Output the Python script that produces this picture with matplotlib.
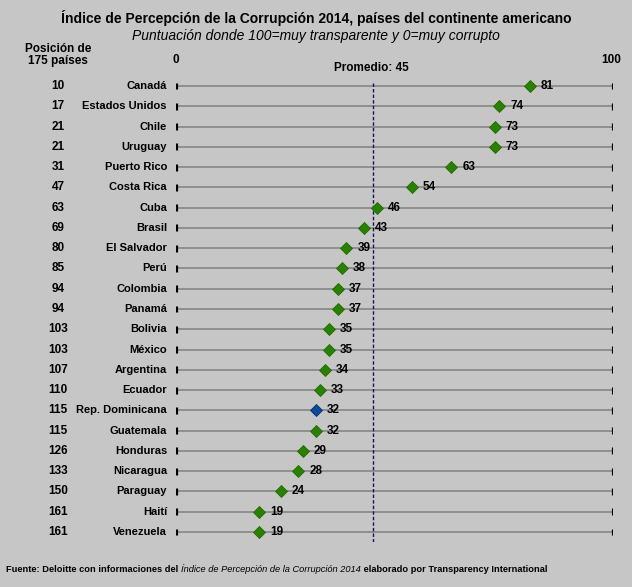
import matplotlib
matplotlib.use("Agg")
import matplotlib.pyplot as plt
from matplotlib.transforms import blended_transform_factory

ranks = [10, 17, 21, 21, 31, 47, 63, 69, 80, 85, 94, 94, 103, 103, 107, 110, 115, 115, 126, 133, 150, 161, 161]
countries = ["Canadá", "Estados Unidos", "Chile", "Uruguay", "Puerto Rico", "Costa Rica", "Cuba", "Brasil",
             "El Salvador", "Perú", "Colombia", "Panamá", "Bolivia", "México", "Argentina", "Ecuador",
             "Rep. Dominicana", "Guatemala", "Honduras", "Nicaragua", "Paraguay", "Haití", "Venezuela"]
scores = [81, 74, 73, 73, 63, 54, 46, 43, 39, 38, 37, 37, 35, 35, 34, 33, 32, 32, 29, 28, 24, 19, 19]
highlight = "Rep. Dominicana"
promedio = 45

plt.rcParams['font.family'] = ['Liberation Sans', 'DejaVu Sans']
BG = "#C6C6C6"
W, H = 632, 587
fig = plt.figure(figsize=(W / 100, H / 100), dpi=100, facecolor=BG)

x0, x1 = 176, 613
top, bot = 76, 542
ax = fig.add_axes([x0 / W, 1 - bot / H, (x1 - x0) / W, (bot - top) / H])
ax.set_facecolor(BG)
ax.set_xlim(0, 100)
n = len(countries)
step = (532 - 86) / (n - 1)
ax.set_ylim((bot - 86) / step, -(86 - top) / step)
ax.axis("off")

ys = list(range(n))
for y in ys:
    ax.plot([0, 100], [y, y], color="#808080", lw=1.1, zorder=1, solid_capstyle="butt")
    for xe in (0, 100):
        ax.plot([xe, xe], [y - 0.17, y + 0.17], color="black", lw=2.3, zorder=2, solid_capstyle="butt")

ax.axvline(promedio, ymin=0.0, ymax=0.985, color="#14145e", lw=1, ls=(0, (2.5, 1.5)), zorder=1)

for y, c, s in zip(ys, countries, scores):
    col = "#0A4B9A" if c == highlight else "#2A8000"
    ec = "#003070" if c == highlight else "#1F6A00"
    ax.plot([s], [y], marker="D", ms=6.5, color=col, mec=ec, mew=0.6, zorder=3)
    ax.text(s + 2.5, y, str(s), ha="left", va="center", fontsize=8.5, fontweight="bold", color="black", zorder=4)

tr = blended_transform_factory(fig.transFigure, ax.transData)
for y, c, r in zip(ys, countries, ranks):
    fig.text(167 / W, y, c, transform=tr, ha="right", va="center", fontsize=8, fontweight="bold")
    fig.text(58 / W, y, str(r), transform=tr, ha="center", va="center", fontsize=8.5, fontweight="bold")

def fy(p):
    return 1 - p / H

fig.text(316 / W, fy(18), "Índice de Percepción de la Corrupción 2014, países del continente americano",
         ha="center", va="center", fontsize=10, fontweight="bold")
fig.text(316 / W, fy(36), "Puntuación donde 100=muy transparente y 0=muy corrupto",
         ha="center", va="center", fontsize=10, style="italic")
fig.text(58 / W, fy(55), "Posición de\n175 países", ha="center", va="center", fontsize=8.5,
         fontweight="bold", linespacing=1.05)
fig.text(176 / W, fy(60), "0", ha="center", va="center", fontsize=8.5, fontweight="bold")
fig.text(611 / W, fy(60), "100", ha="center", va="center", fontsize=8.5, fontweight="bold")
fig.text(371 / W, fy(68), "Promedio: 45", ha="center", va="center", fontsize=8.5, fontweight="bold")

# footer with mixed styles
fig.canvas.draw()
renderer = fig.canvas.get_renderer()
parts = [("Fuente: Deloitte con informaciones del ", "normal", "bold"),
         ("Índice de Percepción de la Corrupción 2014", "italic", "normal"),
         (" elaborado por Transparency International", "normal", "bold")]
xpos = 6 / W
for txt, st, wt in parts:
    t = fig.text(xpos, fy(569), txt, ha="left", va="center", fontsize=6.7, style=st, fontweight=wt)
    bb = t.get_window_extent(renderer=renderer)
    xpos += bb.width / W

fig.savefig("out.png", dpi=100, facecolor=BG)
